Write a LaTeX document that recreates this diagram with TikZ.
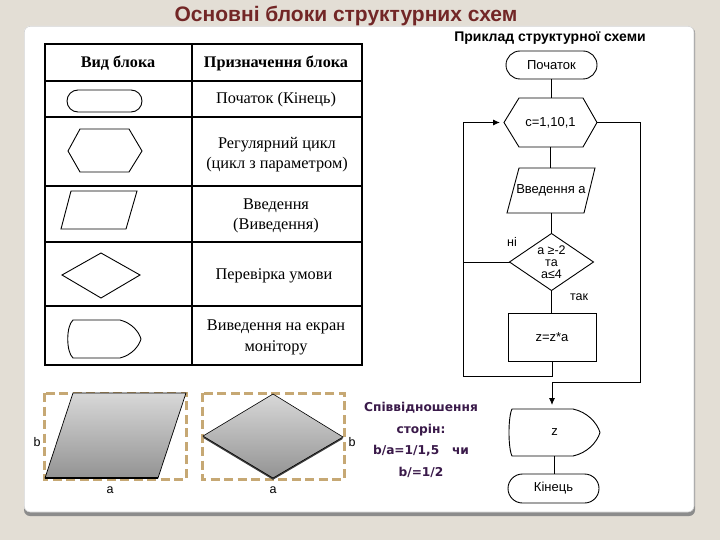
\documentclass[tikz,border=0pt]{standalone}
\usepackage{fontspec}
\setmainfont{Liberation Serif}
\setsansfont{Liberation Sans}
\newfontfamily\dvsans{DejaVu Sans}
\usetikzlibrary{arrows.meta,calc}
\definecolor{pagebg}{HTML}{E3DED5}
\definecolor{titlered}{HTML}{722626}
\definecolor{notepurple}{HTML}{3A1A4A}
\definecolor{dashtan}{HTML}{C6A874}
\definecolor{shadowgray}{HTML}{8C8C8C}
\definecolor{shadetop}{HTML}{D8D8D8}
\definecolor{shadebot}{HTML}{939393}
\begin{document}
\begin{tikzpicture}[x=1pt,y=-1pt,
  every node/.style={inner sep=0pt, outer sep=0pt},
  fctext/.style={font=\sffamily\fontsize{13}{14}\selectfont},
  tabtext/.style={font=\rmfamily\fontsize{16.3}{20}\selectfont, align=center},
  tabhead/.style={font=\rmfamily\bfseries\fontsize{16.2}{18}\selectfont},
  fcline/.style={line width=0.9pt},
  shapeline/.style={line width=0.9pt},
  terminal/.style={draw, line width=0.9pt, rounded corners=#1, fctext},
  hidden/.style={fctext},
  arr/.style={-{Latex[length=7pt,width=6pt]}, shorten >=4pt},
  dashframe/.style={draw=dashtan, line width=3pt, dash pattern=on 9pt off 4.5pt},
  lbl/.style={font=\sffamily\fontsize{12.5}{14}\selectfont}
]
\useasboundingbox (0,0) rectangle (720,540);
\fill[pagebg] (0,0) rectangle (720,540);
% panel
\fill[shadowgray, rounded corners=6pt] (24,27) rectangle (695,516);
\fill[white, rounded corners=6pt] (24,26) rectangle (694,512);
\draw[gray!35, line width=0.6pt, rounded corners=6pt] (24.3,26.3) rectangle (694,512);

\node[font=\sffamily\bfseries\fontsize{21}{24}\selectfont, text=titlered] (title) at (346,16) {Основні блоки структурних схем};

% table
\draw[line width=1.2pt] (45,44) rectangle (362,365);
\foreach \yy in {81,117,186,242,306} \draw[line width=1.2pt] (45,\yy) -- (362,\yy);
\draw[line width=1.2pt] (192,44) -- (192,365);

\node[tabhead] (h1) at (118,63) {Вид блока};
\node[tabhead] (h2) at (276,63) {Призначення блока};
\node[tabtext] (t1) at (276,100) {Початок (Кінець)};
\node[tabtext] (t2) at (277,155) {Регулярний цикл\\(цикл з параметром)};
\node[tabtext] (t3) at (276,216) {Введення\\(Виведення)};
\node[tabtext] (t4) at (274,276) {Перевірка умови};
\node[tabtext, font=\rmfamily\fontsize{16.3}{21}\selectfont] (t5) at (276,337) {Виведення на екран\\монітору};

% table shapes
\draw[shapeline, rounded corners=11pt] (67,90) rectangle (142,112);
\draw[shapeline] (68,151) -- (80,129) -- (129,129) -- (142,151) -- (129,172) -- (80,172) -- cycle;
\draw[shapeline] (71,191) -- (137,191) -- (126,229) -- (61,229) -- cycle;
\draw[shapeline] (62,275) -- (101,253) -- (140,275) -- (101,298) -- cycle;
\draw[shapeline] (73,320) -- (120,320) .. controls (132,323) and (139,332) .. (141,339)
  .. controls (139,346) and (132,355) .. (120,358) -- (73,358)
  .. controls (66,352) and (66,326) .. (73,320) -- cycle;

% flowchart
\node[font=\sffamily\bfseries\fontsize{14}{16}\selectfont] (extitle) at (550,38) {Приклад структурної схеми};
\node[terminal=14pt, minimum width=91pt, minimum height=28pt] (start) at (551.5,65) {Початок};
\node[hidden, minimum width=93pt, minimum height=49pt] (loop) at (550.5,122.5) {c=1,10,1};
\draw[fcline] (loop.west) -- ([xshift=15pt]loop.north west) -- ([xshift=-14pt]loop.north east) -- (loop.east) -- ([xshift=-14pt]loop.south east) -- ([xshift=15pt]loop.south west) -- cycle;
\node[hidden, minimum width=88pt, minimum height=45pt] (inp) at (551,190.5) {Введення а};
\draw[fcline] ([xshift=12pt]inp.north west) -- (inp.north east) -- ([xshift=-11pt]inp.south east) -- (inp.south west) -- cycle;
\node[hidden, minimum width=84pt, minimum height=57pt, align=center, font=\sffamily\fontsize{12.5}{12}\selectfont] (dec) at (551.5,262) {а ≥-2\\та\\а≤4};
\draw[fcline] (dec.north) -- (dec.east) -- (dec.south) -- (dec.west) -- cycle;
\node[draw, fcline, fctext, minimum width=88pt, minimum height=48pt] (proc) at (552,337) {z=z*a};
\node[hidden, minimum width=91pt, minimum height=47pt] (disp) at (554.5,432.5) {z};
\draw[fcline] ([xshift=3pt]disp.north west) -- ([xshift=-27pt]disp.north east)
  .. controls +(14,3) and +(-3,-10) .. (disp.east)
  .. controls +(-3,10) and +(14,-3) .. ([xshift=-27pt]disp.south east)
  -- ([xshift=3pt]disp.south west)
  .. controls +(-4,-8) and +(-4,8) .. ([xshift=3pt]disp.north west) -- cycle;
\node[terminal=14.5pt, minimum width=91pt, minimum height=29pt] (end) at (553.5,488.5) {Кінець};

\coordinate (lb) at (463,376);
\coordinate (rb) at (640,382);
\draw[fcline] (start.south) -- (start.south |- loop.north);
\draw[fcline] (loop.south) -- (loop.south |- inp.north);
\draw[fcline] (inp.south) -- (inp.south |- dec.north);
\draw[fcline] (dec.south) -- (dec.south |- proc.north);
\draw[fcline, arr] (proc.south) |- (lb) |- (loop.west);
\draw[fcline] (dec.west) -- (dec.west -| lb);
\draw[fcline, arr] (loop.east) -| (rb) -| (proc.south |- disp.north);
\draw[fcline] (disp.south) -- (disp.south |- end.north);
\node[lbl] (no) at (512,242) {ні};
\node[lbl] (yes) at (579,297) {так};

% bottom-left illustrations
\draw[dashframe] (44,393) rectangle (186,479);
\shade[top color=shadetop, bottom color=shadebot] (73,393) -- (186,393) -- (158,478) -- (45,478) -- cycle;
\draw[line width=0.7pt] (73,393) -- (186,393) -- (158,478) -- (45,478) -- cycle;
\draw[line width=1.4pt] (45,478) -- (158,478);
\draw[dashframe] (202,393) rectangle (344,479);
\fill[gray!50!black] (273,395.8) -- (343,438.8) -- (273,479.8) -- (203,437.8) -- cycle;
\shade[top color=shadetop, bottom color=shadebot] (273,394) -- (343,437) -- (273,478) -- (203,436) -- cycle;
\draw[line width=0.6pt] (273,394) -- (343,437) -- (273,478) -- (203,436) -- cycle;
\node[lbl] (b1) at (37,442) {b};
\node[lbl] (a1) at (110,490) {a};
\node[lbl] (b2) at (352,442) {b};
\node[lbl] (a2) at (273,490) {a};

\node[font=\dvsans\bfseries\fontsize{12.2}{21.5}\selectfont, text=notepurple, align=center] (ratio) at (421,440) {Співвідношення\\сторін:\\b/a=1/1,5~~~чи\\b/=1/2};
\end{tikzpicture}
\end{document}
